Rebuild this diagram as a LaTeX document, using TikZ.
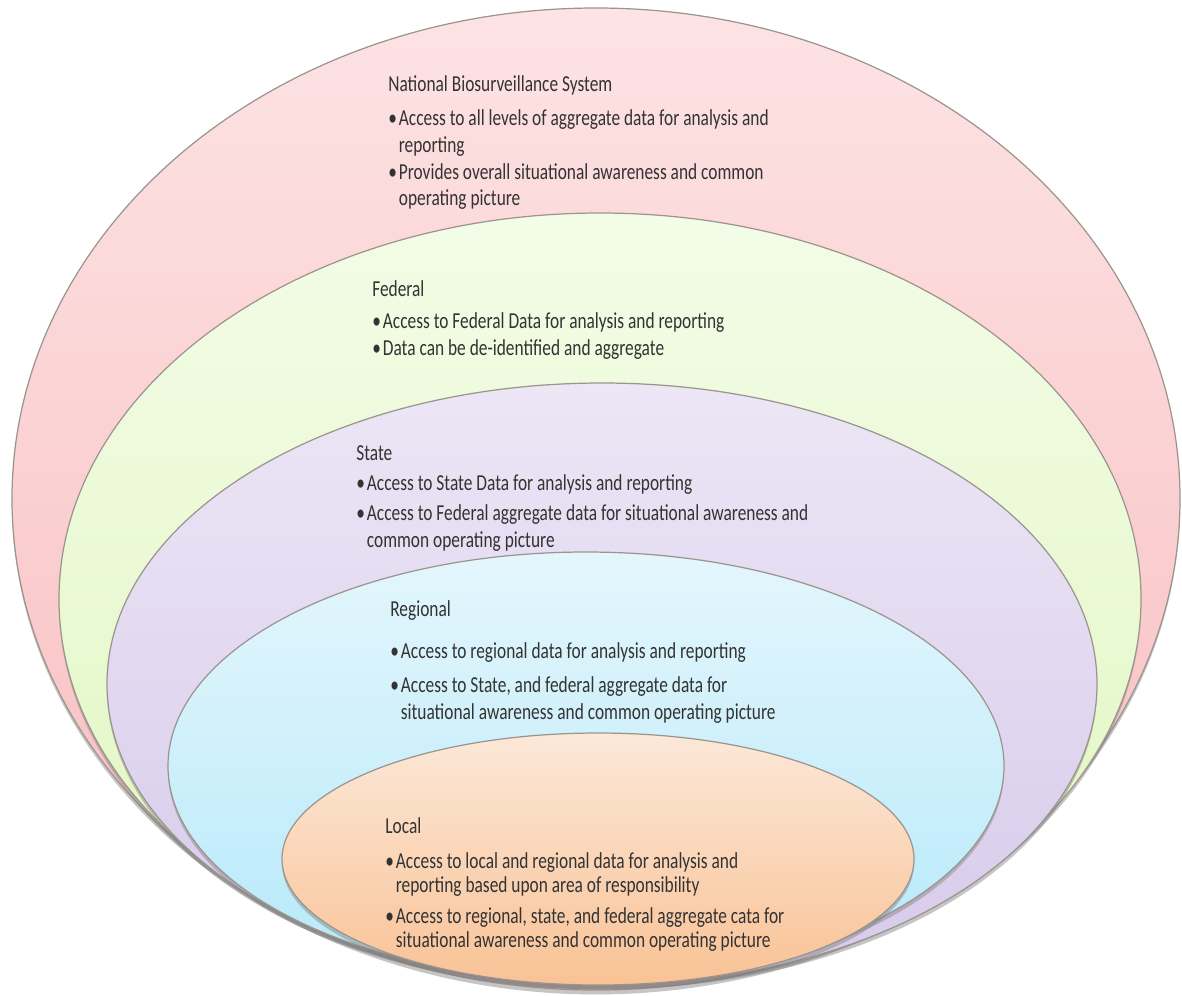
\documentclass[tikz,border=0pt]{standalone}
\usepackage{fontspec}
\setmainfont{Carlito}
\newfontfamily\narrowfont[FakeStretch=0.76]{Carlito}
\usetikzlibrary{positioning,shadows}

\definecolor{nbsTop}{HTML}{FDE3E4}
\definecolor{nbsBot}{HTML}{F8BCBE}
\definecolor{fedTop}{HTML}{F3FCE7}
\definecolor{fedBot}{HTML}{E1F6C0}
\definecolor{stTop}{HTML}{ECE6F5}
\definecolor{stBot}{HTML}{D7CAEB}
\definecolor{regTop}{HTML}{E4F6FC}
\definecolor{regBot}{HTML}{B6E9FA}
\definecolor{locTop}{HTML}{FCE8D9}
\definecolor{locBot}{HTML}{F9C295}
\definecolor{rimGray}{HTML}{9C958E}
\definecolor{inkGray}{HTML}{333333}

\newlength{\bulw}
\setlength{\bulw}{0.6em}
\newcommand{\bul}{\makebox[\bulw][l]{\textbullet}}
\newcommand{\cont}{\hspace*{\bulw}}

\begin{document}
\begin{tikzpicture}[
		x=0.02cm, y=0.02cm,
		% Styles
		layer/.style={draw=rimGray, line width=0.7pt,
				drop shadow={shadow xshift=0pt, shadow yshift=-2.5pt, opacity=0.45}},
		layertext/.style={anchor=north west, align=left, inner sep=0pt, text=inkGray,
				font=\narrowfont\fontsize{13}{15.2}\selectfont}
	]

	% --- 0. FRAME ---
	\fill[white] (0,0) rectangle (1182,-995);
	\useasboundingbox (0,0) rectangle (1182,-995);

	% --- 1. NESTED RINGS (outer to inner) ---
	\foreach \cx/\cy/\rx/\ry/\lvl in {596/499/584/491/nbs, 600/599/541/386/fed,
			602/684/495/301/st, 586/766/418/214/reg, 598/859/316/126/loc} {
			\draw[layer, top color=\lvl Top, bottom color=\lvl Bot]
			(\cx,-\cy) ellipse [x radius=\rx, y radius=\ry];
		}

	% --- 2. TEXTS PER LEVEL ---
	\node[layertext] (nbsText) at (388,-75) {
		National Biosurveillance System\\[4.5pt]
		\bul Access to all levels of aggregate data for analysis and\\
		\cont reporting\\
		\bul Provides overall situational awareness and common\\
		\cont operating picture
	};

	\node[layertext] (fedText) at (372,-280) {
		Federal\\[3pt]
		\bul Access to Federal Data for analysis and reporting\\[0.5pt]
		\bul Data can be de-identified and aggregate
	};

	\node[layertext] (stText) at (356,-445) {
		State\\[2pt]
		\bul Access to State Data for analysis and reporting\\[2pt]
		\bul Access to Federal aggregate data for situational awareness and\\
		\cont common operating picture
	};

	\node[layertext] (regText) at (390,-600) {
		Regional\\[9pt]
		\bul Access to regional data for analysis and reporting\\[4pt]
		\bul Access to State, and federal aggregate data for\\
		\cont situational awareness and common operating picture
	};

	\node[layertext] (locText) at (385,-817) {
		Local\\[5pt]
		\bul Access to local and regional data for analysis and\\[-1.5pt]
		\cont reporting based upon area of responsibility\\[2pt]
		\bul Access to regional, state, and federal aggregate cata for\\[-1.5pt]
		\cont situational awareness and common operating picture
	};

\end{tikzpicture}
\end{document}
